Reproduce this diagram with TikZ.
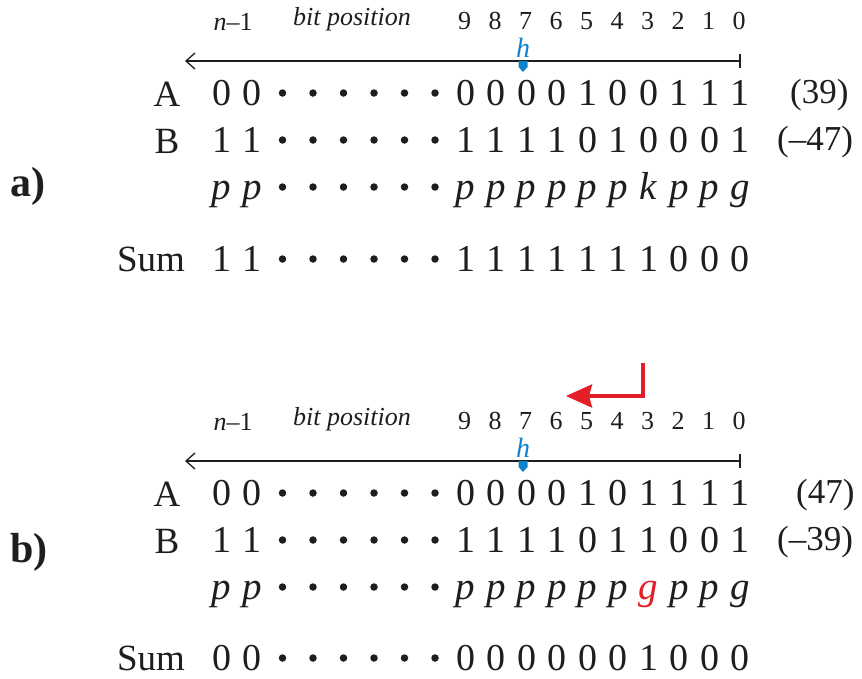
\documentclass[tikz,border=0pt]{standalone}
\usepackage{fontspec}
\setmainfont{Liberation Serif}
\usetikzlibrary{arrows.meta}

\definecolor{hblue}{RGB}{12,132,204}
\definecolor{cred}{RGB}{226,30,38}
\definecolor{ink}{RGB}{30,30,30}

\tikzset{
  bit/.style={anchor=base, inner sep=0pt, text=ink, font=\fontsize{38}{38}\selectfont},
  pbit/.style={bit, font=\fontsize{39}{39}\selectfont\itshape},
  hdr/.style={anchor=base, inner sep=0pt, text=ink, font=\fontsize{26}{26}\selectfont},
  hdrit/.style={hdr, font=\fontsize{26}{26}\selectfont\itshape},
  rowlab/.style={anchor=base, inner sep=0pt, text=ink, font=\fontsize{37}{37}\selectfont},
  val/.style={anchor=base west, inner sep=0pt, text=ink, font=\fontsize{35}{35}\selectfont},
  panellab/.style={anchor=base west, inner sep=0pt, text=ink, font=\fontsize{42}{42}\selectfont\bfseries},
  hmark/.style={anchor=base, inner sep=0pt, text=hblue, font=\fontsize{28}{28}\selectfont\itshape},
  bitdot/.style={circle, fill=ink, inner sep=0pt, minimum size=7.5pt},
  axis/.style={draw=ink, line width=1.3pt},
}

% one row of bits: name, baseline y, style, two leading entries, ten trailing entries
\newcommand\bitrow[5]{%
  \foreach \v [count=\i] in {#4}
    \node[#3] (#1-l\i) at ({740-30.5*(18-\i)}, #2) {\v};
  \foreach \k in {10,...,15}
    \node[bitdot] (#1-d\k) at ({740-30.5*\k}, #2-12) {};
  \foreach \v [count=\i] in {#5}
    \node[#3] (#1-c\i) at ({740-30.5*(10-\i)}, #2) {\v};
}

% bit-position header, axis and the h marker
\newcommand\header[1]{%
  \node[hdrit] (#1-n) at (233,30) {n\textup{–1}};
  \node[hdrit] (#1-bp) at (352,25) {bit position};
  \foreach \k in {0,...,9}
    \node[hdr] (#1-h\k) at ({739-30.5*\k},29) {\k};
  \coordinate (#1-ax0) at (740,61);
  \coordinate (#1-ax1) at (185,61);
  \coordinate (#1-tk0) at (740,54);
  \coordinate (#1-tk1) at (740,68);
  \draw[axis, -{Straight Barb[length=9pt,width=16pt,line width=1.3pt]}] (#1-ax0) -- (#1-ax1);
  \draw[axis] (#1-tk0) -- (#1-tk1);
  \node[hmark] (#1-hl) at (523,57) {h};
  \fill[hblue] (518.5,61) -- (527.5,61) -- (527.5,67) -- (523,72) -- (518.5,67) -- cycle;
}

\begin{document}
\begin{tikzpicture}[x=1pt, y=-1pt]
\useasboundingbox[fill=white] (0,0) rectangle (862,678);
\clip (0,0) rectangle (862,678);

% ---------- a) ----------
\header{a}
\node[panellab] (a-lab) at (10,196) {a)};
\node[rowlab] (a-A) at (167,106) {A};
\node[rowlab] (a-B) at (167,153) {B};
\node[rowlab] (a-S) at (151,271) {Sum};
\bitrow{aA}{105}{bit}{0,0}{0,0,0,0,1,0,0,1,1,1}
\bitrow{aB}{152}{bit}{1,1}{1,1,1,1,0,1,0,0,0,1}
\bitrow{aP}{199}{pbit}{p,p}{p,p,p,p,p,p,k,p,p,g}
\bitrow{aS}{271}{bit}{1,1}{1,1,1,1,1,1,1,0,0,0}
\node[val] (a-vA) at (790,103) {(39)};
\node[val] (a-vB) at (777,150) {(–47)};

% ---------- b) ----------
\begin{scope}[shift={(0,400)}]
\header{b}
\node[rowlab] (b-A) at (167,106) {A};
\node[rowlab] (b-B) at (167,153) {B};
\node[rowlab] (b-S) at (151,270) {Sum};
\bitrow{bA}{105}{bit}{0,0}{0,0,0,0,1,0,1,1,1,1}
\bitrow{bB}{152}{bit}{1,1}{1,1,1,1,0,1,1,0,0,1}
\bitrow{bP}{199}{pbit}{p,p}{p,p,p,p,p,p,{\textcolor{cred}{g}},p,p,g}
\bitrow{bS}{270}{bit}{0,0}{0,0,0,0,0,0,1,0,0,0}
\node[val] (b-vA) at (796,103) {(47)};
\node[val] (b-vB) at (777,150) {(–39)};
\end{scope}
\node[panellab] (b-lab) at (10,562) {b)};

% carry shifted from position 3 towards the higher bits
\coordinate (r0) at (643,363);
\coordinate (r1) at (643,396);
\coordinate (r2) at (566,396);
\draw[cred, line width=3.8pt, miter limit=4,
      -{Stealth[length=26pt,width=23pt,inset=3pt]}] (r0) -- (r1) -- (r2);
\end{tikzpicture}
\end{document}
